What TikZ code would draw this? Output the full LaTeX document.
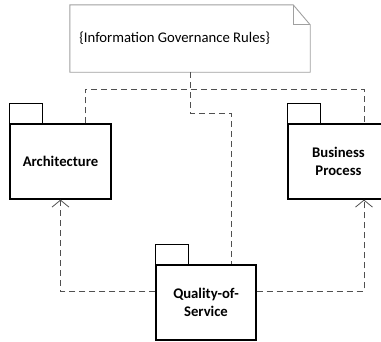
\documentclass[tikz,border=0pt]{standalone}
\usepackage{fontspec}
\setmainfont{Carlito}
\usepackage{tikz}
\usetikzlibrary{arrows.meta, positioning, calc}
\usepackage{xcolor}

\definecolor{notegray}{HTML}{A0A0A0}
\definecolor{depgray}{HTML}{505050}

\tikzset{
  pkg/.style={draw, line width=1.2pt, minimum width=101pt, minimum height=75pt,
    align=center, font=\fontsize{14.7}{18}\selectfont\bfseries},
  dep/.style={draw=depgray, line width=0.9pt, dash pattern=on 6pt off 4pt},
  realize/.style={dep, -{Straight Barb[length=7pt, width=17pt, line width=0.8pt]}}
}

\begin{document}
\begin{tikzpicture}[x=1pt, y=-1pt]
  \useasboundingbox (0,0) rectangle (381,341);

  % note with folded corner
  \node[minimum width=240pt, minimum height=67pt, inner sep=0pt] (rules) at (190,38.5) {};
  \node[anchor=west, font=\fontsize{14.7}{18}\selectfont] (rulestext) at ([xshift=6pt]rules.west)
    {\{Information Governance Rules\}};
  \draw[notegray, line width=0.9pt] (rules.north west) -- ([xshift=-17pt]rules.north east)
    -- ([yshift=-20pt]rules.north east) -- (rules.south east) -- (rules.south west) -- cycle;
  \draw[notegray, line width=0.9pt] ([xshift=-17pt]rules.north east)
    |- ([yshift=-20pt]rules.north east);

  % packages
  \node[pkg] (arch) at (60.5,161.5) {Architecture};
  \node[pkg] (bp) at (338.5,161.5) {Business\\Process};
  \node[pkg, minimum width=100pt] (qos) at (206,302.5) {Quality-of-\\Service};
  \foreach \p in {arch, bp, qos}
    \draw[line width=1.2pt] (\p.north west) rectangle ++(33,-20);

  % dependencies
  \draw[dep] ([xshift=24.5pt]arch.north) -- ++(0,-34) -| ([xshift=25.5pt]bp.north);
  \draw[dep] (rules.south) -- ++(0,41) -| ([xshift=25pt]qos.north);
  \draw[realize] ([yshift=11.5pt]qos.west) -| (arch.south);
  \draw[realize] ([yshift=11.5pt]qos.east) -| ([xshift=25.5pt]bp.south);
\end{tikzpicture}
\end{document}
